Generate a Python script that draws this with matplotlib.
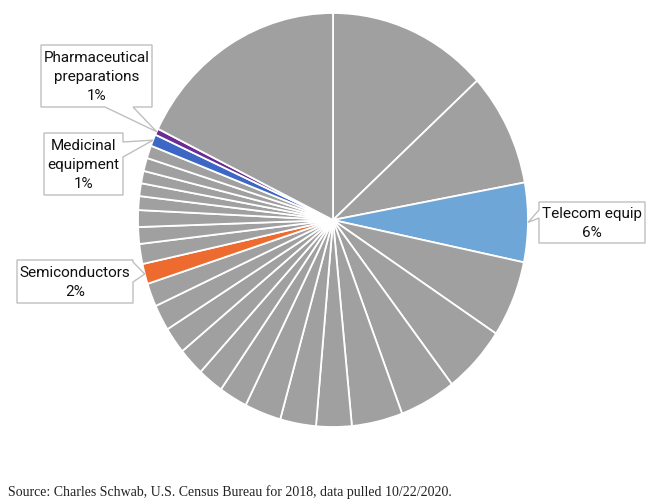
import matplotlib
matplotlib.use("Agg")
import matplotlib.pyplot as plt
import numpy as np
from matplotlib.patches import Polygon

# ---- data (percent shares, clockwise from 12 o'clock) ----
categories = [
    "Other 1", "Other 2", "Telecom equip", "Other 4", "Other 5", "Other 6",
    "Other 7", "Other 8", "Other 9", "Other 10", "Other 11", "Other 12",
    "Other 13", "Other 14", "Other 15", "Other 16", "Semiconductors",
    "Other 18", "Other 19", "Other 20", "Other 21", "Other 22", "Other 23",
    "Other 24", "Other 25", "Medicinal equipment", "Pharmaceutical preparations",
    "Other 28",
]
values = [
    13.25, 8.86, 6.19, 5.97, 5.33, 4.67, 4.22, 2.94, 2.97, 3.03, 2.36, 2.14,
    2.19, 2.08, 2.03, 1.83, 1.58, 1.56, 1.31, 1.31, 1.08, 1.00, 0.97, 1.03,
    1.00, 0.92, 0.50, 17.75,
]
highlight_colors = {
    "Telecom equip": "#6FA6D8",
    "Semiconductors": "#EE6B2F",
    "Medicinal equipment": "#3C67C4",
    "Pharmaceutical preparations": "#6A2C95",
}
label_text = {
    "Telecom equip": "Telecom equip\n6%",
    "Semiconductors": "Semiconductors\n2%",
    "Medicinal equipment": "Medicinal\nequipment\n1%",
    "Pharmaceutical preparations": "Pharmaceutical\npreparations\n1%",
}
source = "Source: Charles Schwab, U.S. Census Bureau for 2018, data pulled 10/22/2020."

W, H = 659, 503
fig = plt.figure(figsize=(W / 100, H / 100), dpi=100)
fig.patch.set_facecolor("white")

cx, cy, rx, ry = 333, 220, 195, 207
ax = fig.add_axes([(cx - rx) / W, (H - cy - ry) / H, 2 * rx / W, 2 * ry / H])
colors = [highlight_colors.get(c, "#A0A0A0") for c in categories]
wedges, _ = ax.pie(values, colors=colors, startangle=90, counterclock=False,
                   wedgeprops=dict(edgecolor="white", linewidth=1.3))
ax.set_aspect("auto")
ax.set_xlim(-1, 1)
ax.set_ylim(-1, 1)
ax.axis("off")

# overlay in pixel coordinates for callouts
ov = fig.add_axes([0, 0, 1, 1], zorder=5)
ov.set_xlim(0, W)
ov.set_ylim(H, 0)
ov.axis("off")
ov.patch.set_alpha(0)

fig.canvas.draw()

def tip_of(name, r=1.0):
    w = wedges[categories.index(name)]
    th = np.deg2rad((w.theta1 + w.theta2) / 2)
    disp = ax.transData.transform((r * np.cos(th), r * np.sin(th)))
    return ov.transData.inverted().transform(disp)

boxes = {
    "Telecom equip": ((539, 202, 645, 243), "left", (210, 218)),
    "Pharmaceutical preparations": ((41, 45, 152, 107), "bottom", (105, 133)),
    "Medicinal equipment": ((44, 133, 123, 195), "right", (142, 157)),
    "Semiconductors": ((17, 260, 133, 303), "right", (262, 282)),
}
edge_c = "#BFBFBF"
for name, ((x0, y0, x1, y1), side, (a, b)) in boxes.items():
    tx, ty = tip_of(name)
    if side == "left":
        pts = [(x0, y0), (x1, y0), (x1, y1), (x0, y1), (x0, b), (tx, ty), (x0, a)]
    elif side == "right":
        pts = [(x0, y0), (x1, y0), (x1, a), (tx, ty), (x1, b), (x1, y1), (x0, y1)]
    else:  # bottom
        pts = [(x0, y0), (x1, y0), (x1, y1), (b, y1), (tx, ty), (a, y1), (x0, y1)]
    ov.add_patch(Polygon(pts, closed=True, facecolor="white", edgecolor=edge_c,
                         linewidth=1.0))
    ov.text((x0 + x1) / 2, (y0 + y1) / 2 + 1, label_text[name], ha="center",
            va="center", fontsize=11, family="Roboto", color="#111111",
            linespacing=1.45)

fig.text(8 / W, 1 - 492 / H, source, ha="left", va="center", fontsize=10,
         family="Liberation Serif", color="#222222")

fig.savefig("out.png", dpi=100, facecolor="white")
